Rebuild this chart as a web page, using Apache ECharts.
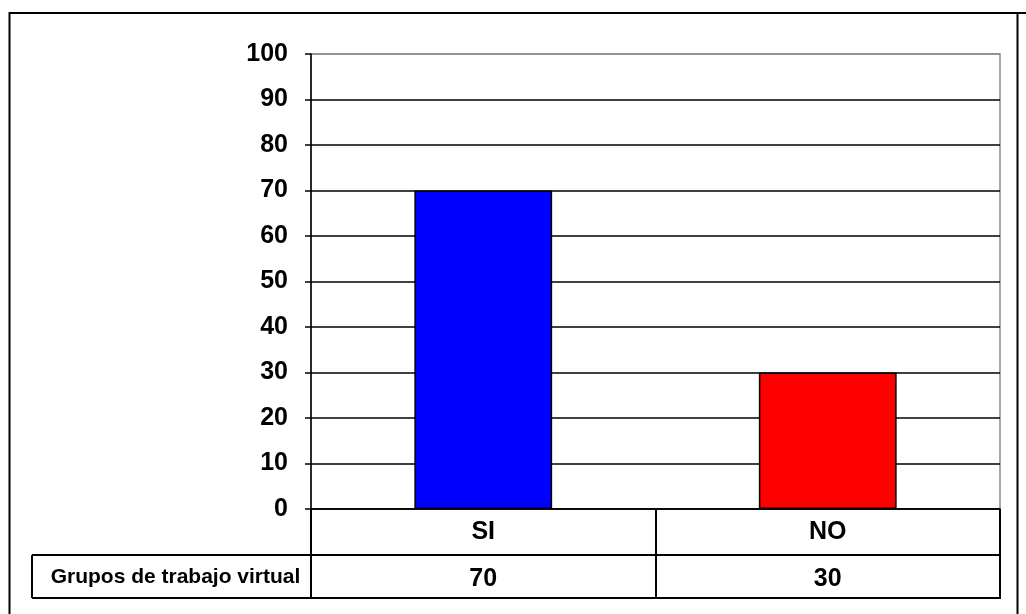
<!DOCTYPE html>
<html>
<head>
<meta charset="utf-8">
<script src="https://cdn.jsdelivr.net/npm/echarts@6/dist/echarts.min.js"></script>
<style>
html,body{margin:0;padding:0;background:#fff;}
#chart{width:1026px;height:614px;}
</style>
</head>
<body>
<div id="chart"></div>
<script>
const categories = ['SI', 'NO'];
const values = [70, 30];
const barColors = ['#0000FF', '#FF0000'];
const rowLabel = 'Grupos de trabajo virtual';
const yTicks = [0, 10, 20, 30, 40, 50, 60, 70, 80, 90, 100];

const FONT = '"Liberation Sans", Arial, sans-serif';
const G = {left: 311, right: 26, top: 54, bottom: 105};
const W = 1026, H = 614;
const plotBottom = H - G.bottom;      // 509
const plotRight = W - G.right;        // 1000
const row1Bottom = 555, row2Bottom = 598, tableLeft = 32;

const chart = echarts.init(document.getElementById('chart'), null, {renderer: 'canvas'});

const splitColors = yTicks.map((t, i) => i === yTicks.length - 1 ? '#8c8c8c' : '#000');

const lineStyle = {stroke: '#000', lineWidth: 2};
chart.setOption({
  animation: false,
  backgroundColor: '#fff',
  grid: {left: G.left, right: G.right, top: G.top, bottom: G.bottom,
         show: true, borderColor: '#8c8c8c', borderWidth: 1.5, backgroundColor: 'transparent'},
  xAxis: [{
    type: 'category',
    data: categories,
    position: 'bottom',
    axisLine: {show: true, lineStyle: {color: '#000', width: 1.5}},
    axisTick: {show: true, alignWithLabel: false, length: row2Bottom - plotBottom, lineStyle: {color: '#000', width: 2}},
    axisLabel: {color: '#000', fontFamily: FONT, fontWeight: 'bold', fontSize: 25, lineHeight: 26, margin: 10}
  }, {
    type: 'category',
    data: values.map(String),
    position: 'bottom',
    offset: row1Bottom - plotBottom,
    axisLine: {show: false},
    axisTick: {show: false},
    axisLabel: {color: '#000', fontFamily: FONT, fontWeight: 'bold', fontSize: 25, lineHeight: 26, margin: 11}
  }],
  yAxis: {
    type: 'value',
    min: 0, max: 100, interval: 10,
    axisLine: {show: true, lineStyle: {color: '#000', width: 1.5}},
    axisTick: {show: true, length: 6, lineStyle: {color: '#000', width: 1.5}},
    axisLabel: {color: '#000', fontFamily: FONT, fontWeight: 'bold', fontSize: 25, margin: 23},
    splitLine: {show: true, lineStyle: {color: splitColors, width: 1.5}}
  },
  series: [{
    type: 'bar',
    xAxisIndex: 0,
    barWidth: '40%',
    data: values.map((v, i) => ({value: v, itemStyle: {color: barColors[i]}})),
    itemStyle: {borderColor: '#000', borderWidth: 1.5}
  }],
  graphic: [
    // outer frame
    {type: 'line', shape: {x1: 9, y1: 13, x2: 1026, y2: 13}, style: {stroke: '#000', lineWidth: 2}, silent: true},
    {type: 'line', shape: {x1: 9.5, y1: 12, x2: 9.5, y2: 614}, style: {stroke: '#000', lineWidth: 2}, silent: true},
    {type: 'line', shape: {x1: 1017.5, y1: 13, x2: 1017.5, y2: 614}, style: {stroke: '#000', lineWidth: 2}, silent: true},
    // data table lines
    {type: 'line', shape: {x1: tableLeft, y1: row1Bottom, x2: plotRight + 1, y2: row1Bottom}, style: lineStyle, silent: true},
    {type: 'line', shape: {x1: tableLeft, y1: row2Bottom, x2: plotRight + 1, y2: row2Bottom}, style: lineStyle, silent: true},
    {type: 'line', shape: {x1: tableLeft, y1: row1Bottom, x2: tableLeft, y2: row2Bottom}, style: lineStyle, silent: true},
    {type: 'text', x: (tableLeft + G.left) / 2 + 4, y: (row1Bottom + row2Bottom) / 2 + 1,
     style: {text: rowLabel, fill: '#000', font: 'bold 21px ' + FONT, textAlign: 'center', textVerticalAlign: 'middle'}, silent: true}
  ]
});
</script>
</body>
</html>
